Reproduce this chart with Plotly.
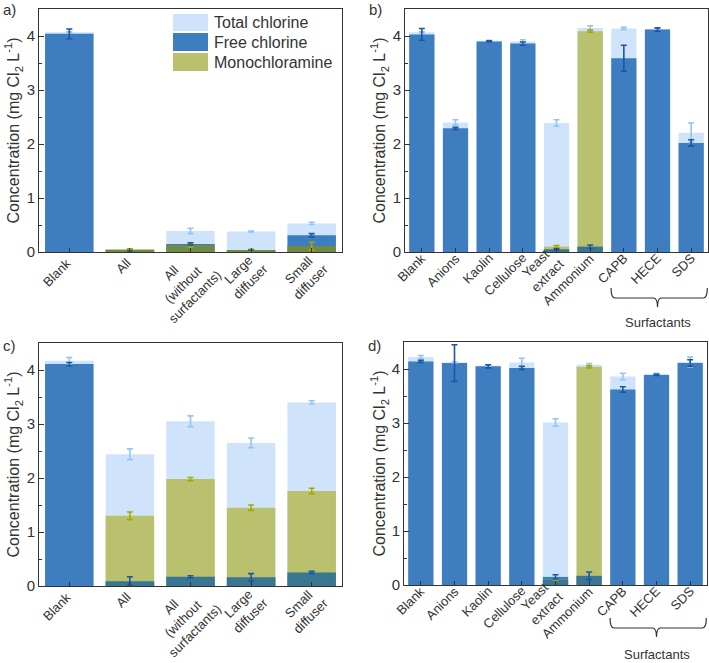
import plotly.graph_objects as go

# ---------------- data ----------------
cats_ac = ["Blank", "All", "All<br>(without<br>surfactants)", "Large<br>diffuser", "Small<br>diffuser"]
cats_bd = ["Blank", "Anions", "Kaolin", "Cellulose", "Yeast<br>extract", "Ammonium", "CAPB", "HECE", "SDS"]

a_total = [4.07, 0.05, 0.39, 0.38, 0.53]
a_total_err = [0.01, 0.01, 0.05, 0.01, 0.02]
a_free = [4.04, 0.02, 0.15, 0.03, 0.31]
a_free_err = [0.09, 0.00, 0.02, 0.00, 0.03]
a_mono = [None, 0.05, 0.13, 0.03, 0.11]
a_mono_err = [None, 0.01, 0.04, 0.02, 0.07]

b_total = [4.07, 2.40, 3.91, 3.90, 2.39, 4.15, 4.14, 4.13, 2.21]
b_total_err = [0.01, 0.05, 0.01, 0.03, 0.06, 0.04, 0.02, 0.01, 0.18]
b_free = [4.03, 2.29, 3.90, 3.86, 0.05, 0.10, 3.59, 4.12, 2.02]
b_free_err = [0.11, 0.02, 0.01, 0.03, 0.01, 0.03, 0.24, 0.03, 0.06]
b_mono = [None, None, None, None, 0.10, 4.09, None, None, None]
b_mono_err = [None, None, None, None, 0.02, 0.02, None, None, None]

c_total = [4.17, 2.44, 3.05, 2.65, 3.40]
c_total_err = [0.06, 0.10, 0.10, 0.09, 0.03]
c_free = [4.11, 0.09, 0.17, 0.16, 0.25]
c_free_err = [0.03, 0.08, 0.02, 0.07, 0.02]
c_mono = [None, 1.30, 1.98, 1.45, 1.76]
c_mono_err = [None, 0.07, 0.03, 0.05, 0.05]

d_total = [4.22, 4.12, 4.06, 4.12, 3.01, 4.08, 3.86, 3.91, 4.13]
d_total_err = [0.03, 0.01, 0.01, 0.08, 0.07, 0.02, 0.06, 0.01, 0.09]
d_free = [4.14, 4.11, 4.05, 4.02, 0.15, 0.17, 3.62, 3.89, 4.11]
d_free_err = [0.02, 0.34, 0.03, 0.03, 0.04, 0.07, 0.05, 0.01, 0.06]
d_mono = [None, None, None, None, 0.10, 4.04, None, None, None]
d_mono_err = [None, None, None, None, 0.01, 0.02, None, None, None]

# ---------------- styles ----------------
C_TOTAL = "#cfe4fb"
C_FREE = "#3d7dc0"
C_MONO = "#b9c16e"
E_TOTAL = "#93c4f2"
E_FREE = "#1758a8"
E_MONO = "#a6a800"
AX = "#333333"
FONT = "Liberation Sans, Arial, sans-serif"
CAT_FS = 13

fig = go.Figure()


def overlap(free, mono):
    return [min(f, m) if (f is not None and m is not None) else None for f, m in zip(free, mono)]


def add_panel(ax, cats, total, total_err, free, free_err, mono, mono_err, width, ov_color):
    xa = "x" + ax
    ya = "y" + ax
    fig.add_trace(go.Bar(x=cats, y=total, width=width, marker=dict(color=C_TOTAL, line=dict(width=0)),
                         xaxis=xa, yaxis=ya, showlegend=False))
    fig.add_trace(go.Bar(x=cats, y=free, width=width, marker=dict(color=C_FREE, line=dict(width=0)),
                         xaxis=xa, yaxis=ya, showlegend=False))
    fig.add_trace(go.Bar(x=cats, y=mono, width=width, marker=dict(color=C_MONO, line=dict(width=0)),
                         xaxis=xa, yaxis=ya, showlegend=False))
    fig.add_trace(go.Bar(x=cats, y=overlap(free, mono), width=width,
                         marker=dict(color=ov_color, line=dict(width=0)),
                         xaxis=xa, yaxis=ya, showlegend=False))
    for vals, errs, col in [(total, total_err, E_TOTAL), (mono, mono_err, E_MONO), (free, free_err, E_FREE)]:
        fig.add_trace(go.Scatter(x=cats, y=vals, mode="markers",
                                 marker=dict(size=0.1, color="rgba(0,0,0,0)"),
                                 error_y=dict(type="data", array=errs, color=col, thickness=1.6, width=3),
                                 xaxis=xa, yaxis=ya, showlegend=False, hoverinfo="skip"))


add_panel("", cats_ac, a_total, a_total_err, a_free, a_free_err, a_mono, a_mono_err, 0.8, "#6f8a47")
add_panel("2", cats_bd, b_total, b_total_err, b_free, b_free_err, b_mono, b_mono_err, 0.75, "#3a7591")
add_panel("3", cats_ac, c_total, c_total_err, c_free, c_free_err, c_mono, c_mono_err, 0.8, "#3a7591")
add_panel("4", cats_bd, d_total, d_total_err, d_free, d_free_err, d_mono, d_mono_err, 0.75, "#3a7591")

W, H = 709, 663


def px_x(p):
    return p / W


def px_y(p):
    return 1 - p / H


xdoms = {"": (39, 342), "2": (405, 708), "3": (39, 342), "4": (404, 707)}
ydoms = {"": (9, 252), "2": (9, 252), "3": (343, 586), "4": (342, 585)}
cats_of = {"": cats_ac, "2": cats_bd, "3": cats_ac, "4": cats_bd}

layout = dict(
    width=W, height=H, margin=dict(l=0, r=0, t=0, b=0),
    paper_bgcolor="white", plot_bgcolor="white", barmode="overlay",
    font=dict(family=FONT, color=AX, size=12),
    showlegend=False,
)
for k in ["", "2", "3", "4"]:
    layout["xaxis" + k] = dict(
        domain=[px_x(xdoms[k][0]), px_x(xdoms[k][1])], anchor="y" + k,
        range=[-0.5, len(cats_of[k]) - 0.5], type="category",
        showline=True, linecolor=AX, linewidth=1, mirror=True,
        ticks="inside", ticklen=4, tickcolor=AX, showticklabels=False,
        showgrid=False, automargin=False,
    )
    layout["yaxis" + k] = dict(
        domain=[px_y(ydoms[k][1]), px_y(ydoms[k][0])], anchor="x" + k,
        range=[0, 4.5], tickvals=[0, 1, 2, 3, 4],
        showline=True, linecolor=AX, linewidth=1, mirror=True,
        ticks="inside", ticklen=5, tickcolor=AX,
        minor=dict(ticks="inside", ticklen=3, dtick=0.5, tick0=0, tickcolor=AX),
        tickfont=dict(size=15, color=AX, family=FONT), showgrid=False, zeroline=False, automargin=False,
    )
fig.update_layout(**layout)

# approximate Arial glyph widths (em) used to place rotated category labels
CW = {"A": .667, "B": .667, "C": .722, "D": .722, "E": .667, "H": .722, "K": .667, "L": .556, "P": .667,
      "S": .667, "Y": .667, "a": .556, "b": .556, "c": .5, "d": .556, "e": .556, "f": .278, "g": .556,
      "h": .556, "i": .222, "k": .5, "l": .222, "m": .833, "n": .556, "o": .556, "r": .333, "s": .5,
      "t": .278, "u": .556, "w": .722, "x": .5, "(": .333, ")": .333, " ": .278}


def text_w(s):
    return max(sum(CW.get(ch, .556) for ch in line) for line in s.split("<br>")) * CAT_FS


ytitle = "Concentration (mg Cl<sub>2</sub> L<sup>-1</sup>)"
annotations = []
shapes = []

# rotated category labels
label_off = {"": (-1, 8.5, 9), "2": (1.5, 4, -3), "3": (-1, 8.5, 9), "4": (1.5, 4, -3)}
for k in ["", "2", "3", "4"]:
    ox, oy, mshift = label_off[k]
    for i, lab in enumerate(cats_of[k]):
        w = text_w(lab)
        n = lab.count("<br>") + 1
        annotations.append(dict(
            text=lab, x=i, xref="x" + k, y=px_y(ydoms[k][1]), yref="paper",
            xshift=ox - 0.354 * w + mshift * (n - 1), yshift=-(oy + 0.354 * w),
            textangle=-45, showarrow=False, xanchor="center", yanchor="middle", align="center",
            font=dict(size=CAT_FS, color=AX, family=FONT)))

for k, xpx, lab, lx, ly in [("", 14, "a)", 1, 10), ("2", 380, "b)", 367, 10),
                           ("3", 14, "c)", 1, 345), ("4", 379, "d)", 366, 345)]:
    yc = (ydoms[k][0] + ydoms[k][1]) / 2
    annotations.append(dict(text=ytitle, x=px_x(xpx), y=px_y(yc), xref="paper", yref="paper",
                            textangle=-90, showarrow=False, xanchor="center", yanchor="middle",
                            font=dict(size=16, color=AX, family=FONT)))
    annotations.append(dict(text=lab, x=px_x(lx), y=px_y(ly), xref="paper", yref="paper",
                            showarrow=False, xanchor="left", yanchor="middle",
                            font=dict(size=15, color=AX, family=FONT)))

# legend (panel a)
legend_items = [("Total chlorine", C_TOTAL, 14, 31), ("Free chlorine", C_FREE, 33, 51),
                ("Monochloramine", C_MONO, 53, 71)]
for name, col, t, b in legend_items:
    shapes.append(dict(type="rect", xref="paper", yref="paper",
                       x0=px_x(173), x1=px_x(208), y0=px_y(b), y1=px_y(t),
                       fillcolor=col, line=dict(width=0)))
    annotations.append(dict(text=name, x=px_x(212), y=px_y((t + b) / 2), xref="paper", yref="paper",
                            showarrow=False, xanchor="left", yanchor="middle",
                            font=dict(size=16, color=AX, family=FONT)))

# surfactant brackets
for k, top, mid, tip, ty in [("2", 288, 298, 307, 331), ("4", 618, 628, 637, 663)]:
    x0, x1 = 5.62, 8.48
    c = 7.0
    yt, ym, yp = px_y(top), px_y(mid), px_y(tip)
    r = 0.12
    path = (f"M {x0},{yt} Q {x0},{ym} {x0 + r},{ym} L {c - r},{ym} Q {c},{ym} {c},{yp} "
            f"Q {c},{ym} {c + r},{ym} L {x1 - r},{ym} Q {x1},{ym} {x1},{yt}")
    shapes.append(dict(type="path", xref="x" + k, yref="paper", path=path,
                       line=dict(color=AX, width=1.2)))
    annotations.append(dict(text="Surfactants", x=c, y=px_y(ty), xref="x" + k, yref="paper",
                            showarrow=False, xanchor="center", yanchor="bottom", borderpad=0,
                            font=dict(size=13, color=AX, family=FONT)))

fig.update_layout(annotations=annotations, shapes=shapes)
fig.write_html("out.html")
